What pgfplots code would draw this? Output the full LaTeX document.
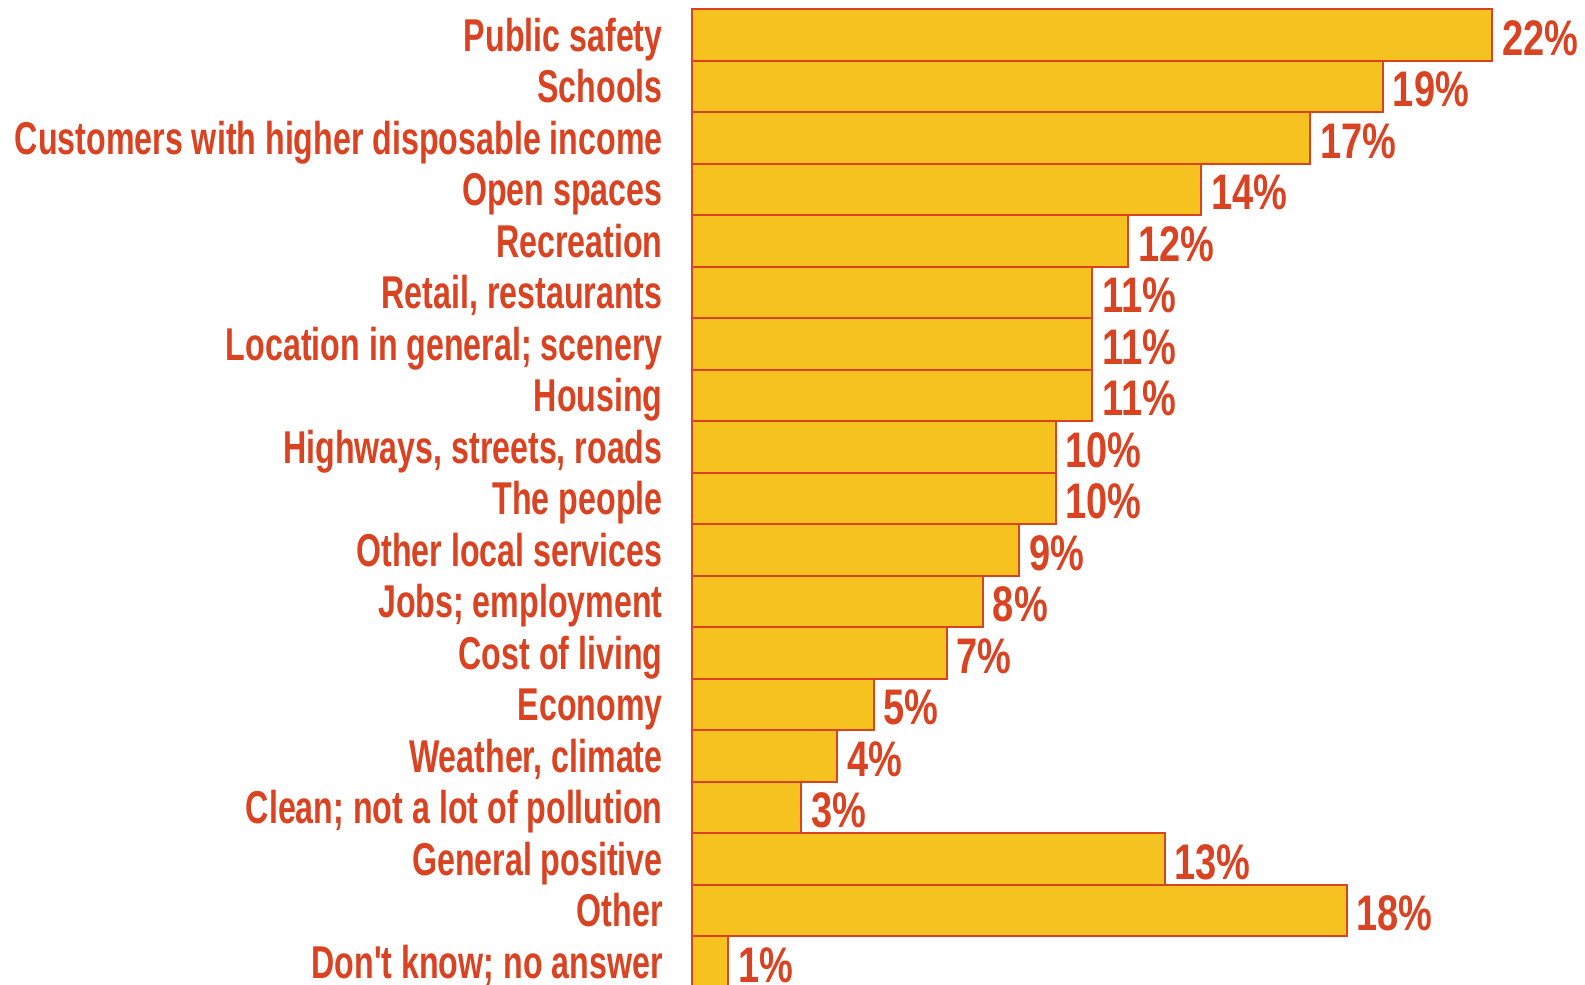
\documentclass[border=0pt]{standalone}
\usepackage{fontspec}
\setmainfont{Liberation Sans}
\newfontfamily\catfont[FakeStretch=0.70]{Liberation Sans}
\newfontfamily\valfont[FakeStretch=0.76]{Liberation Sans}
\usepackage{pgfplots}
\pgfplotsset{compat=1.18}
\definecolor{barfill}{HTML}{F6C21F}
\definecolor{barred}{HTML}{DA4321}
\begin{document}
\begin{tikzpicture}
\begin{axis}[
  at={(346pt,0pt)}, anchor=north west,
  scale only axis,
  width=400pt, height=489.25pt,
  xmin=0, xmax=22,
  ymin=-0.5, ymax=18.5,
  y dir=reverse,
  xbar, bar width=1,
  axis line style={draw=none},
  major tick length=0pt,
  xtick=\empty,
  ytick={0,...,18},
  yticklabels={Public safety, Schools, Customers with higher disposable income, Open spaces, Recreation, {Retail, restaurants}, Location in general; scenery, Housing, {Highways, streets, roads}, The people, Other local services, Jobs; employment, Cost of living, Economy, {Weather, climate}, Clean; not a lot of pollution, General positive, Other, Don't know; no answer},
  yticklabel style={anchor=base east, inner sep=0pt, xshift=-14.5pt, yshift=-8.2pt, text=barred, font=\catfont\fontsize{23}{26}\selectfont\bfseries},
  /pgf/number format/assume math mode=true,
  point meta=x,
  nodes near coords={\pgfmathprintnumber{\pgfplotspointmeta}\%},
  every node near coord/.append style={anchor=base west, inner sep=0pt, xshift=4.5pt, yshift=-10.2pt, text=barred, font=\valfont\fontsize{25}{28}\selectfont\bfseries},
  clip=false,
]
\addplot[draw=barred, fill=barfill, line width=1pt] coordinates {
(22,0) (19,1) (17,2) (14,3) (12,4) (11,5) (11,6) (11,7) (10,8) (10,9) (9,10) (8,11) (7,12) (5,13) (4,14) (3,15) (13,16) (18,17) (1,18)
};
\end{axis}
\pgfresetboundingbox
\useasboundingbox (0pt,4.55pt) rectangle (792.5pt,-487.95pt);
\end{tikzpicture}
\end{document}
